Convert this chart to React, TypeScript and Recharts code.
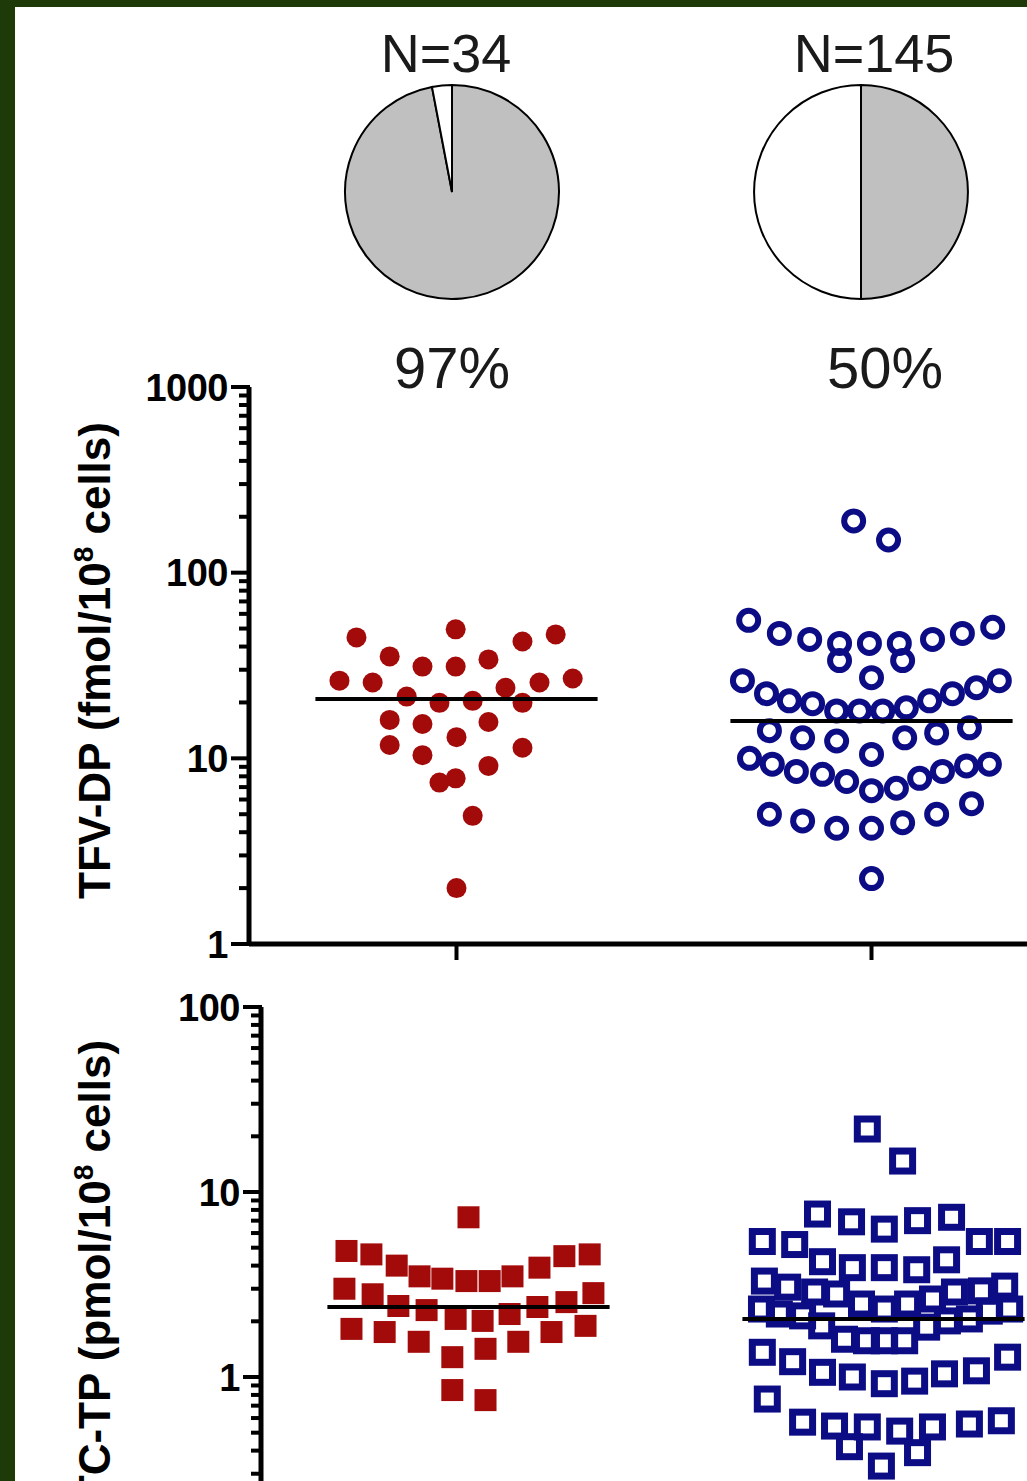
import React from "react";
import {
  PieChart,
  Pie,
  Cell,
  ScatterChart,
  Scatter,
  XAxis,
  YAxis,
  Label,
} from "recharts";

// pies: sample size and % of group
const pieN = [34, 145];
const piePct = [97, 50];

// TFV-DP (fmol/10^8 cells), x = group position + jitter
const tfvRedX = [0.759, 0.998, 1.159, 1.239, 0.839, 0.918, 0.998, 1.077, 0.718, 0.798, 1.118, 1.2, 1.28, 0.88, 0.959, 1.039, 1.159, 0.839, 0.918, 1.077, 1.0, 0.839, 0.918, 1.159, 1.077, 0.959, 0.998, 1.039, 1.0];
const tfvRedY = [44.8, 49.5, 42.6, 46.5, 35.4, 31.2, 31.2, 34.1, 26.2, 25.6, 24.0, 25.6, 26.9, 21.5, 19.9, 20.4, 19.9, 16.1, 15.3, 15.7, 13.0, 11.8, 10.4, 11.4, 9.1, 7.4, 7.8, 4.9, 2.0];
const tfvBlueX = [1.957, 2.041, 1.704, 1.778, 1.851, 1.923, 1.923, 1.995, 2.067, 2.075, 2.147, 2.219, 2.292, 2.0, 1.689, 1.747, 1.802, 1.858, 1.916, 1.971, 2.027, 2.084, 2.14, 2.195, 2.253, 2.308, 1.754, 1.834, 1.916, 2.0, 2.08, 2.157, 2.236, 1.706, 1.761, 1.819, 1.882, 1.94, 2.0, 2.06, 2.116, 2.171, 2.229, 2.284, 1.754, 1.834, 1.916, 2.0, 2.075, 2.157, 2.241, 2.0];
const tfvBlueY = [190, 150, 55.4, 47.1, 43.7, 41.6, 33.6, 41.6, 41.6, 33.6, 43.7, 47.1, 50.8, 27.2, 26.2, 22.3, 20.4, 19.7, 18.0, 18.0, 18.0, 18.7, 20.4, 22.3, 24.0, 26.2, 14.1, 12.9, 12.4, 10.5, 12.9, 13.7, 14.6, 10.0, 9.3, 8.5, 8.2, 7.5, 6.7, 6.9, 7.8, 8.5, 9.1, 9.3, 5.0, 4.6, 4.2, 4.2, 4.5, 5.0, 5.7, 2.25];

// FTC-TP (pmol/10^8 cells)
const ftcRedX = [1.0, 0.706, 0.766, 0.827, 0.882, 0.937, 0.995, 1.051, 1.106, 1.171, 1.231, 1.292, 0.701, 0.769, 0.831, 0.899, 0.969, 1.034, 1.099, 1.166, 1.236, 1.301, 0.718, 0.798, 0.88, 0.961, 1.041, 1.12, 1.2, 1.282, 0.961, 1.041];
const ftcRedY = [7.3, 4.8, 4.6, 4.0, 3.5, 3.4, 3.3, 3.3, 3.5, 3.9, 4.5, 4.6, 3.0, 2.8, 2.42, 2.3, 2.06, 2.01, 2.19, 2.39, 2.54, 2.84, 1.82, 1.75, 1.55, 1.28, 1.42, 1.55, 1.75, 1.89, 0.85, 0.75];
const ftcBlueX = [1.961, 2.046, 1.841, 1.923, 2.002, 2.082, 2.164, 1.708, 1.786, 2.231, 2.299, 1.853, 1.925, 2.002, 2.08, 2.152, 1.713, 1.769, 1.834, 1.887, 1.947, 2.002, 2.058, 2.118, 2.171, 2.236, 2.292, 1.706, 1.749, 1.805, 1.851, 1.906, 1.959, 2.002, 2.051, 2.104, 2.154, 2.207, 2.255, 2.304, 1.708, 1.781, 1.853, 1.925, 2.002, 2.075, 2.147, 2.224, 2.299, 1.72, 1.805, 1.882, 1.961, 2.039, 2.118, 2.207, 2.284, 1.918, 2.082, 1.995];
const ftcBlueY = [21.9, 14.7, 7.6, 6.9, 6.3, 7.0, 7.3, 5.4, 5.2, 5.4, 5.4, 4.2, 3.9, 3.9, 3.8, 4.3, 3.3, 3.06, 2.88, 2.81, 2.48, 2.33, 2.48, 2.64, 2.88, 2.92, 3.1, 2.33, 2.19, 2.14, 1.89, 1.6, 1.57, 1.57, 1.57, 1.86, 2.01, 2.06, 2.27, 2.33, 1.36, 1.21, 1.06, 1.0, 0.92, 0.95, 1.04, 1.08, 1.28, 0.76, 0.57, 0.543, 0.537, 0.51, 0.537, 0.557, 0.58, 0.42, 0.39, 0.33];

const groupPos = [1, 2];
const tfvMedian = [20.9, 15.9];
const ftcMedian = [2.39, 2.06];
const medianHalf = 0.34;

const tfvTicks = [1, 10, 100, 1000];
const ftcTicks = [0.1, 1, 10, 100];
const minorSteps = [2, 3, 4, 5, 6, 7, 8, 9];

const RED = "#a30a0a";
const BLUE = "#0c0c85";
const GRAY = "#c0c0c0";
const FONT = "'Liberation Sans', Arial, sans-serif";

const zip = (xs: number[], ys: number[]) => xs.map((x, i) => ({ x, y: ys[i] }));
const withMinor = (majors: number[]) =>
  majors.flatMap((m, i) => (i < majors.length - 1 ? [m, ...minorSteps.map((s) => s * m)] : [m]));
const medianSeg = (g: number, m: number) => [
  { x: g - medianHalf, y: m },
  { x: g + medianHalf, y: m },
];

function LogTick(props: any) {
  const { x, y, payload } = props;
  const v = payload.value;
  const lg = Math.log10(v);
  const major = Math.abs(lg - Math.round(lg)) < 1e-6;
  const len = major ? 18 : 10;
  return (
    <g>
      <line x1={x - len} y1={y} x2={x + 1} y2={y} stroke="#000" strokeWidth={4} />
      {major && (
        <text
          x={x - len - 3}
          y={y}
          dy="0.36em"
          textAnchor="end"
          fontFamily={FONT}
          fontWeight="bold"
          fontSize={38}
          letterSpacing={-0.5}
          fill="#000"
        >
          {String(v)}
        </text>
      )}
    </g>
  );
}

function CatTick(props: any) {
  const { x, y } = props;
  return <line x1={x} y1={y} x2={x} y2={y + 16} stroke="#000" strokeWidth={4} />;
}

function axisTitle(main: string, unit: string, shift: number) {
  return (props: any) => {
    const vb = props.viewBox || {};
    const cx = 110;
    const cy = vb.y + vb.height / 2 + shift;
    return (
      <text
        x={cx}
        y={cy}
        transform={`rotate(-90 ${cx} ${cy})`}
        textAnchor="middle"
        fontFamily={FONT}
        fontWeight="bold"
        fontSize={44}
        fill="#000"
      >
        {main} ({unit}/10
        <tspan dy={-17} fontSize={28}>8</tspan>
        <tspan dy={17}> cells)</tspan>
      </text>
    );
  };
}

const redDot = (p: any) => <circle cx={p.cx} cy={p.cy} r={10} fill={RED} />;
const blueRing = (p: any) => (
  <circle cx={p.cx} cy={p.cy} r={9.5} fill="none" stroke={BLUE} strokeWidth={6} />
);
const redSquare = (p: any) => <rect x={p.cx - 11} y={p.cy - 11} width={22} height={22} fill={RED} />;
const blueSquare = (p: any) => (
  <rect x={p.cx - 10} y={p.cy - 10} width={20} height={20} fill="none" stroke={BLUE} strokeWidth={7} />
);
const noShape = () => <g />;

const pieCx = [452, 861];
const nLabelX = [446, 874];
const pctLabelX = [452, 885];

export default function App() {
  const tfvRed = zip(tfvRedX, tfvRedY);
  const tfvBlue = zip(tfvBlueX, tfvBlueY);
  const ftcRed = zip(ftcRedX, ftcRedY);
  const ftcBlue = zip(ftcBlueX, ftcBlueY);

  return (
    <div
      style={{
        position: "absolute",
        left: 0,
        top: 0,
        width: 1027,
        height: 1481,
        overflow: "hidden",
        background: "#1e3a08",
      }}
    >
      <div
        style={{
          position: "absolute",
          left: 15,
          top: 7,
          right: 0,
          bottom: 0,
          background: "#fff",
        }}
      />

      <div style={{ position: "absolute", left: 0, top: 0 }}>
        <PieChart width={1027} height={320} margin={{ top: 0, right: 0, bottom: 0, left: 0 }}>
          {pieN.map((n, i) => (
            <Pie
              key={n}
              data={[
                { name: "yes", value: piePct[i] },
                { name: "no", value: 100 - piePct[i] },
              ]}
              dataKey="value"
              cx={pieCx[i]}
              cy={192}
              outerRadius={107}
              startAngle={90}
              endAngle={-270}
              stroke="#000"
              strokeWidth={2}
              isAnimationActive={false}
            >
              <Cell fill={GRAY} />
              <Cell fill="#fff" />
            </Pie>
          ))}
        </PieChart>
      </div>

      {pieN.map((n, i) => (
        <React.Fragment key={"lab" + n}>
          <div
            style={{
              position: "absolute",
              left: nLabelX[i] - 150,
              width: 300,
              top: 26,
              textAlign: "center",
              fontFamily: FONT,
              fontSize: 54,
              lineHeight: 1,
              color: "#1a1a1a",
            }}
          >
            N={n}
          </div>
          <div
            style={{
              position: "absolute",
              left: pctLabelX[i] - 150,
              width: 300,
              top: 339,
              textAlign: "center",
              fontFamily: FONT,
              fontSize: 58,
              lineHeight: 1,
              color: "#1a1a1a",
            }}
          >
            {piePct[i]}%
          </div>
        </React.Fragment>
      ))}

      <div style={{ position: "absolute", left: 0, top: 340 }}>
        <ScatterChart width={1100} height={650} margin={{ top: 47, right: 21, bottom: 16, left: 0 }}>
          <XAxis
            type="number"
            dataKey="x"
            domain={[0.5, 2.5]}
            ticks={groupPos}
            tick={<CatTick />}
            tickLine={false}
            tickSize={0}
            tickMargin={0}
            height={30}
            axisLine={{ stroke: "#000", strokeWidth: 5 }}
          />
          <YAxis
            type="number"
            dataKey="y"
            scale="log"
            domain={[1, 1000]}
            ticks={withMinor(tfvTicks)}
            interval={0}
            tick={<LogTick />}
            tickLine={false}
            tickSize={0}
            tickMargin={0}
            width={249}
            axisLine={{ stroke: "#000", strokeWidth: 5 }}
          >
            <Label content={axisTitle("TFV-DP", "fmol", -5)} />
          </YAxis>
          <Scatter data={tfvRed} shape={redDot} isAnimationActive={false} />
          <Scatter data={tfvBlue} shape={blueRing} isAnimationActive={false} />
          {groupPos.map((g, i) => (
            <Scatter
              key={g}
              data={medianSeg(g, tfvMedian[i])}
              shape={noShape}
              line={{ stroke: "#000", strokeWidth: 4 }}
              isAnimationActive={false}
            />
          ))}
        </ScatterChart>
      </div>

      <div style={{ position: "absolute", left: 0, top: 960 }}>
        <ScatterChart width={1100} height={660} margin={{ top: 47, right: 9, bottom: 28, left: 0 }}>
          <XAxis
            type="number"
            dataKey="x"
            domain={[0.5, 2.5]}
            ticks={groupPos}
            tick={<CatTick />}
            tickLine={false}
            tickSize={0}
            tickMargin={0}
            height={30}
            axisLine={{ stroke: "#000", strokeWidth: 5 }}
          />
          <YAxis
            type="number"
            dataKey="y"
            scale="log"
            domain={[0.1, 100]}
            ticks={withMinor(ftcTicks)}
            interval={0}
            tick={<LogTick />}
            tickLine={false}
            tickSize={0}
            tickMargin={0}
            width={261}
            axisLine={{ stroke: "#000", strokeWidth: 5 }}
          >
            <Label content={axisTitle("FTC-TP", "pmol", 0)} />
          </YAxis>
          <Scatter data={ftcRed} shape={redSquare} isAnimationActive={false} />
          <Scatter data={ftcBlue} shape={blueSquare} isAnimationActive={false} />
          {groupPos.map((g, i) => (
            <Scatter
              key={g}
              data={medianSeg(g, ftcMedian[i])}
              shape={noShape}
              line={{ stroke: "#000", strokeWidth: 4 }}
              isAnimationActive={false}
            />
          ))}
        </ScatterChart>
      </div>
    </div>
  );
}
